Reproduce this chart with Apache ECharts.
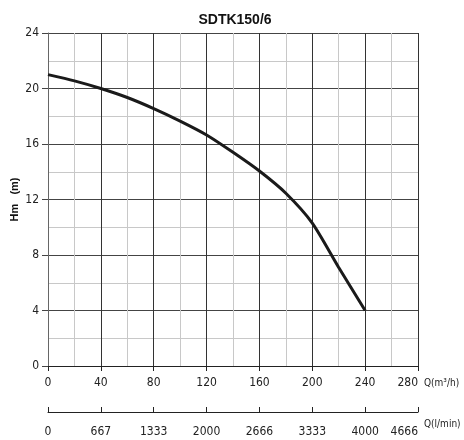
<!DOCTYPE html>
<html>
<head>
<meta charset="utf-8">
<script src="https://cdn.jsdelivr.net/npm/echarts@6/dist/echarts.min.js"></script>
<style>html,body{margin:0;padding:0;background:#fff}#c{width:464px;height:440px}</style>
</head>
<body>
<div id="c"></div>
<script>
var flowM3h = [0, 20, 40, 60, 80, 100, 120, 140, 160, 180, 200, 220, 240];
var headM   = [21, 20.55, 20, 19.35, 18.55, 17.65, 16.65, 15.4, 14.05, 12.45, 10.3, 7.1, 4];
var lminLabels = ['0', '667', '1333', '2000', '2666', '3333', '4000', '4666'];

var FONT = "'DejaVu Sans Condensed', 'Liberation Sans Narrow', 'Liberation Sans', Arial, sans-serif";
var chart = echarts.init(document.getElementById('c'), null, {renderer: 'canvas'});
var pts = flowM3h.map(function (q, i) { return [q, headM[i]]; });

chart.setOption({
  animation: false,
  title: {
    text: 'SDTK150/6', left: 230, top: 8, textAlign: 'center',
    textStyle: {fontFamily: "'Liberation Sans', Arial, sans-serif", fontWeight: 'bold', fontSize: 14, color: '#111'}
  },
  grid: {left: 48, right: 46, top: 33, bottom: 74, containLabel: false, outerBoundsMode: 'none'},
  xAxis: [{
    type: 'value', min: 0, max: 280, interval: 40,
    name: 'Q(m³/h)', nameLocation: 'end', nameGap: 6, nameMoveOverlap: false,
    nameTextStyle: {fontFamily: FONT, fontSize: 10, color: '#222', verticalAlign: 'top', padding: [12, 0, 0, 0]},
    axisLine: {show: true, lineStyle: {color: '#222', width: 1}},
    axisTick: {show: true, inside: false, length: 5, lineStyle: {color: '#222'}},
    axisLabel: {margin: 11, alignMaxLabel: 'right', fontFamily: FONT, fontSize: 12, color: '#222'},
    splitLine: {show: true, lineStyle: {color: '#333', width: 1}},
    minorTick: {show: false, splitNumber: 2},
    minorSplitLine: {show: true, lineStyle: {color: '#c8c8c8', width: 1}}
  }, {
    type: 'category', data: lminLabels, boundaryGap: false,
    position: 'bottom', offset: 46,
    name: 'Q(l/min)', nameLocation: 'end', nameGap: 6, nameMoveOverlap: false,
    nameTextStyle: {fontFamily: FONT, fontSize: 10, color: '#222', verticalAlign: 'top', padding: [7, 0, 0, 0]},
    axisLine: {show: true, lineStyle: {color: '#222', width: 1}},
    axisTick: {show: true, inside: true, length: 5, alignWithLabel: true, interval: 0, lineStyle: {color: '#222'}},
    axisLabel: {margin: 14, interval: 0, hideOverlap: false, alignMaxLabel: 'right', fontFamily: FONT, fontSize: 12, color: '#222'},
    splitLine: {show: false}
  }],
  yAxis: {
    type: 'value', min: 0, max: 24, interval: 4,
    name: 'Hm   (m)', nameLocation: 'middle', nameGap: 28, nameRotate: 90, nameMoveOverlap: false,
    nameTextStyle: {fontFamily: "'Liberation Sans', Arial, sans-serif", fontWeight: 'bold', fontSize: 11, color: '#111'},
    axisLine: {show: true, lineStyle: {color: '#666', width: 1}},
    axisTick: {show: true, inside: false, length: 6, lineStyle: {color: '#444'}},
    axisLabel: {margin: 9, fontFamily: FONT, fontSize: 12, color: '#222'},
    splitLine: {show: true, lineStyle: {color: '#444', width: 1}},
    minorTick: {show: false, splitNumber: 2},
    minorSplitLine: {show: true, lineStyle: {color: '#c8c8c8', width: 1}}
  },
  series: [{
    type: 'line', xAxisIndex: 0, yAxisIndex: 0, data: pts,
    smooth: 0.25, showSymbol: false, symbol: 'none',
    lineStyle: {color: '#1a1a1a', width: 3}
  }]
});
</script>
</body>
</html>
